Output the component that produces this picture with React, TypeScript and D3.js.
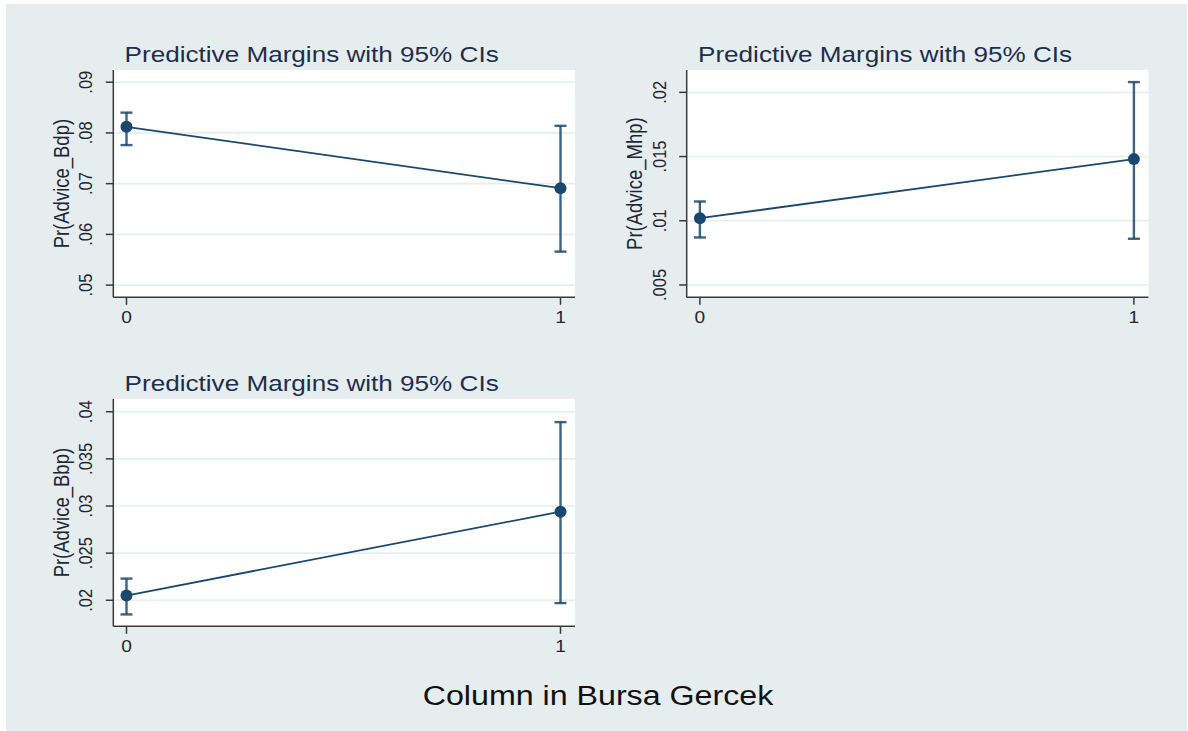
import React from "react";
import * as d3 from "d3";

// ---- data ----
const categories = [0, 1];
const xTickLabels = ["0", "1"];
const chartTitle = "Predictive Margins with 95% CIs";
const xAxisTitle = "Column in Bursa Gercek";

const bdpMargin = [0.0812, 0.0691];
const bdpLower = [0.0776, 0.0566];
const bdpUpper = [0.084, 0.0814];
const bdpTicks = [0.05, 0.06, 0.07, 0.08, 0.09];

const mhpMargin = [0.0102, 0.0148];
const mhpLower = [0.0087, 0.0086];
const mhpUpper = [0.0115, 0.0208];
const mhpTicks = [0.005, 0.01, 0.015, 0.02];

const bbpMargin = [0.0205, 0.0294];
const bbpLower = [0.0185, 0.0197];
const bbpUpper = [0.0223, 0.0389];
const bbpTicks = [0.02, 0.025, 0.03, 0.035, 0.04];

// ---- styles / layout ----
const FONT = "'Liberation Sans', Arial, Helvetica, sans-serif";
const BG = "#e5edef";
const NAVY = "#1a476f";
const GRID = "#e6eef0";
const SX = 1.16;

type PanelSpec = {
  label: string;
  margin: number[];
  lower: number[];
  upper: number[];
  ticks: number[];
  yDomain: [number, number];
  left: number;
  top: number;
};

const W = 461.7;
const H = 227.3;

const panels: PanelSpec[] = [
  { label: "Pr(Advice_Bdp)", margin: bdpMargin, lower: bdpLower, upper: bdpUpper, ticks: bdpTicks, yDomain: [0.0476, 0.0924], left: 113.3, top: 70 },
  { label: "Pr(Advice_Mhp)", margin: mhpMargin, lower: mhpLower, upper: mhpUpper, ticks: mhpTicks, yDomain: [0.00404, 0.02174], left: 686.7, top: 70 },
  { label: "Pr(Advice_Bbp)", margin: bbpMargin, lower: bbpLower, upper: bbpUpper, ticks: bbpTicks, yDomain: [0.01724, 0.04135], left: 113.3, top: 399 },
];

const fmt = (v: number) => {
  const s = d3.format("~g")(+v.toPrecision(6));
  return s.replace(/^0\./, ".");
};

function Panel({ p }: { p: PanelSpec }) {
  const x = d3.scaleLinear().domain([-0.0304, 1.0334]).range([0, W]);
  const y = d3.scaleLinear().domain(p.yDomain).range([H, 0]);
  const pts = categories.map((c, i) => [x(c), y(p.margin[i])] as [number, number]);
  const line = d3.line()(pts) || "";
  const titleCx = W / 2 - 32.5;
  return (
    <g transform={`translate(${p.left},${p.top})`}>
      <rect x={0} y={0} width={W} height={H} fill="#ffffff" />
      {p.ticks.map((t) => (
        <line key={"g" + t} x1={0} x2={W} y1={y(t)} y2={y(t)} stroke={GRID} strokeWidth={1.6} />
      ))}
      {/* axes */}
      <line x1={0} x2={0} y1={0} y2={H} stroke="#3a3a3a" strokeWidth={1.5} />
      <line x1={0} x2={W} y1={H} y2={H} stroke="#3a3a3a" strokeWidth={1.5} />
      {p.ticks.map((t) => (
        <g key={"t" + t}>
          <line x1={-7.5} x2={0} y1={y(t)} y2={y(t)} stroke="#3a3a3a" strokeWidth={1.5} />
          <text
            transform={`translate(${-21},${y(t)}) scale(${SX},1) rotate(-90)`}
            textAnchor="middle"
            fontFamily={FONT}
            fontSize={16.5}
            fill="#1e2633"
          >
            {fmt(t)}
          </text>
        </g>
      ))}
      {categories.map((c, i) => (
        <g key={"x" + c}>
          <line x1={x(c)} x2={x(c)} y1={H} y2={H + 7.5} stroke="#3a3a3a" strokeWidth={1.5} />
          <text
            transform={`translate(${x(c)},${H + 26}) scale(${SX},1)`}
            textAnchor="middle"
            fontFamily={FONT}
            fontSize={16.5}
            fill="#1e2633"
          >
            {xTickLabels[i]}
          </text>
        </g>
      ))}
      <text
        transform={`translate(${-44.5},${H / 2}) scale(${SX},1) rotate(-90)`}
        textAnchor="middle"
        fontFamily={FONT}
        fontSize={18.5}
        fill="#1e2633"
      >
        {p.label}
      </text>
      <text
        transform={`translate(${titleCx},${-8.3}) scale(${SX},1)`}
        textAnchor="middle"
        fontFamily={FONT}
        fontSize={22.5}
        fill="#1f2d4d"
      >
        {chartTitle}
      </text>
      {/* CIs */}
      {categories.map((c, i) => (
        <g key={"ci" + c} stroke={NAVY} strokeOpacity={0.85} strokeWidth={2.4}>
          <line x1={x(c)} x2={x(c)} y1={y(p.lower[i])} y2={y(p.upper[i])} />
          <line x1={x(c) - 6} x2={x(c) + 6} y1={y(p.lower[i])} y2={y(p.lower[i])} />
          <line x1={x(c) - 6} x2={x(c) + 6} y1={y(p.upper[i])} y2={y(p.upper[i])} />
        </g>
      ))}
      <path d={line} fill="none" stroke={NAVY} strokeWidth={1.8} />
      {pts.map((pt, i) => (
        <circle key={"m" + i} cx={pt[0]} cy={pt[1]} r={6} fill={NAVY} />
      ))}
    </g>
  );
}

export default function App() {
  return (
    <svg
      width={1188}
      height={731}
      style={{ position: "absolute", left: 0, top: 0, display: "block" }}
    >
      <rect x={0} y={0} width={1188} height={731} fill="#ffffff" />
      <rect x={6} y={4} width={1181} height={727} fill={BG} />
      {panels.map((p) => (
        <Panel key={p.label} p={p} />
      ))}
      <text
        transform={`translate(598,705) scale(1.15,1)`}
        textAnchor="middle"
        fontFamily={FONT}
        fontSize={28}
        fill="#111111"
      >
        {xAxisTitle}
      </text>
    </svg>
  );
}
